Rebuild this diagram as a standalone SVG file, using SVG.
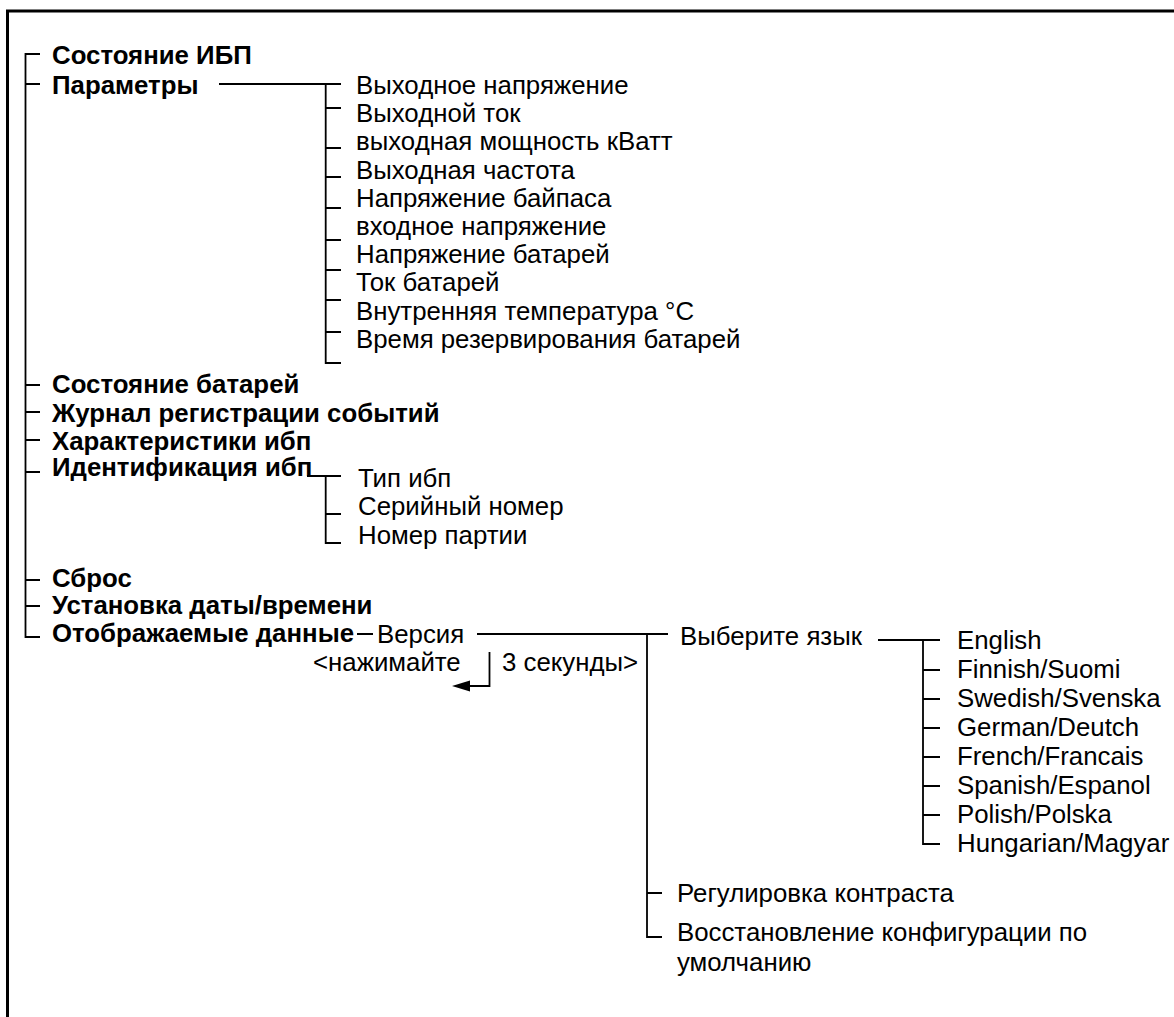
<svg xmlns="http://www.w3.org/2000/svg" width="1174" height="1017" viewBox="0 0 1174 1017">
<style>
.b{font-family:"Liberation Sans",Arial,sans-serif;font-weight:bold;font-size:25.8px;fill:#000}
.r{font-family:"Liberation Sans",Arial,sans-serif;font-size:25.8px;fill:#000}
.c{fill:none;stroke:#000;stroke-width:1.8}
</style>
<rect width="1174" height="1017" fill="#fff"/>
<rect x="7.5" y="11" width="1200" height="1100" fill="none" stroke="#000" stroke-width="3"/>
<g id="connectors">
<path class="c" d="M40,54H25.5V637H40 M25.5,84H40 M25.5,385H40 M25.5,412H40 M25.5,440H40 M25.5,472H40 M25.5,580H40 M25.5,606H40"/>
<path class="c" d="M219,84H341 M325.7,84V363H341 M325.7,108H341 M325.7,148H341 M325.7,177H341 M325.7,208H341 M325.7,240H341 M325.7,270H341 M325.7,300H341 M325.7,332H341"/>
<path class="c" d="M307,476H341 M325.7,476V543H341 M325.7,514H341"/>
<path class="c" d="M357,634H373 M477,634H668 M647,634V937H662 M647,893H662"/>
<path class="c" d="M878,640H940 M923,640V844H940 M923,670H940 M923,699H940 M923,728H940 M923,757H940 M923,786H940 M923,815H940"/>
<path class="c" d="M489.5,652V686H468"/>
<polygon points="452,686 470,680.5 470,691.5" fill="#000"/>
</g>
<g id="n-status"><text class="b" x="52" y="64">Состояние ИБП</text></g>
<g id="n-params"><text class="b" x="52" y="94">Параметры</text></g>
<g id="n-params-list">
<text class="r" x="356" y="94">Выходное напряжение</text>
<text class="r" x="356" y="122.2">Выходной ток</text>
<text class="r" x="356" y="150.4">выходная мощность кВатт</text>
<text class="r" x="356" y="178.6">Выходная частота</text>
<text class="r" x="356" y="206.8">Напряжение байпаса</text>
<text class="r" x="356" y="235">входное напряжение</text>
<text class="r" x="356" y="263.2">Напряжение батарей</text>
<text class="r" x="356" y="291.4">Ток батарей</text>
<text class="r" x="356" y="319.6">Внутренняя температура °C</text>
<text class="r" x="356" y="347.8">Время резервирования батарей</text>
</g>
<g id="n-battery"><text class="b" x="52" y="393">Состояние батарей</text></g>
<g id="n-log"><text class="b" x="52" y="422">Журнал регистрации событий</text></g>
<g id="n-char"><text class="b" x="52" y="450">Характеристики ибп</text></g>
<g id="n-ident"><text class="b" x="52" y="476">Идентификация ибп</text></g>
<g id="n-ident-list">
<text class="r" x="358" y="487">Тип ибп</text>
<text class="r" x="358" y="515">Серийный номер</text>
<text class="r" x="358" y="544">Номер партии</text>
</g>
<g id="n-reset"><text class="b" x="52" y="587">Сброс</text></g>
<g id="n-date"><text class="b" x="52" y="614">Установка даты/времени</text></g>
<g id="n-display"><text class="b" x="52" y="642">Отображаемые данные</text></g>
<g id="n-version"><text class="r" x="377" y="643">Версия</text></g>
<g id="n-press">
<text class="r" x="313" y="671">&lt;нажимайте</text>
<text class="r" x="502" y="671">3 секунды&gt;</text>
</g>
<g id="n-lang"><text class="r" x="680" y="645">Выберите язык</text></g>
<g id="n-lang-list">
<text class="r" x="957" y="649">English</text>
<text class="r" x="957" y="678">Finnish/Suomi</text>
<text class="r" x="957" y="707">Swedish/Svenska</text>
<text class="r" x="957" y="736">German/Deutch</text>
<text class="r" x="957" y="765">French/Francais</text>
<text class="r" x="957" y="794">Spanish/Espanol</text>
<text class="r" x="957" y="823">Polish/Polska</text>
<text class="r" x="957" y="852">Hungarian/Magyar</text>
</g>
<g id="n-contrast"><text class="r" x="677" y="902">Регулировка контраста</text></g>
<g id="n-restore">
<text class="r" x="677" y="941">Восстановление конфигурации по</text>
<text class="r" x="677" y="971">умолчанию</text>
</g>
</svg>
